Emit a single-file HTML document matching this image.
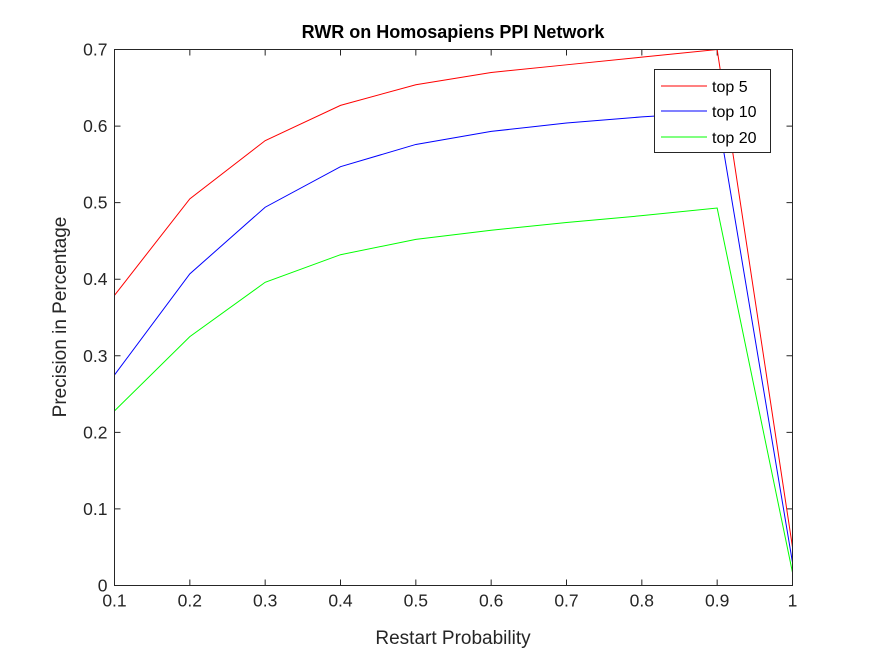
<!DOCTYPE html>
<html><head><meta charset="utf-8"><style>
body{margin:0;background:#fff;}
svg{display:block;font-family:"Liberation Sans",Arial,sans-serif;}
</style></head><body>
<svg id="chart" width="875" height="656" xmlns="http://www.w3.org/2000/svg">
<rect width="875" height="656" fill="#fff"/>
<text x="453" y="38" text-anchor="middle" font-size="18" font-weight="bold" fill="#000">RWR on Homosapiens PPI Network</text>
<text x="453" y="644" text-anchor="middle" font-size="19" fill="#262626">Restart Probability</text>
<text transform="translate(66,317) rotate(-90)" text-anchor="middle" font-size="19" fill="#262626">Precision in Percentage</text>
<g id="ticks"></g>
<g id="series"></g>
<rect x="114.5" y="49.5" width="678" height="536" fill="none" stroke="#262626" stroke-width="1"/>
<g>
<rect x="654.5" y="69.5" width="116" height="83" fill="#fff" stroke="#262626"/>
<line x1="661" y1="86" x2="707" y2="86" stroke="#ff0000"/>
<text x="712" y="92" font-size="16" fill="#000">top 5</text>
<line x1="661" y1="111" x2="707" y2="111" stroke="#0000ff"/>
<text x="712" y="117" font-size="16" fill="#000">top 10</text>
<line x1="661" y1="137" x2="707" y2="137" stroke="#00ff00"/>
<text x="712" y="143" font-size="16" fill="#000">top 20</text>
</g>
</svg>
<script>
const xValues = [0.1,0.2,0.3,0.4,0.5,0.6,0.7,0.8,0.9,1.0];
const top5 = [0.379,0.505,0.581,0.627,0.654,0.670,0.680,0.690,0.700,0.050];
const top10 = [0.275,0.407,0.494,0.547,0.576,0.593,0.604,0.612,0.618,0.030];
const top20 = [0.228,0.325,0.396,0.432,0.452,0.464,0.474,0.483,0.493,0.017];
const xTicks = [0.1,0.2,0.3,0.4,0.5,0.6,0.7,0.8,0.9,1];
const xTickLabels = ["0.1","0.2","0.3","0.4","0.5","0.6","0.7","0.8","0.9","1"];
const yTicks = [0,0.1,0.2,0.3,0.4,0.5,0.6,0.7];
const yTickLabels = ["0","0.1","0.2","0.3","0.4","0.5","0.6","0.7"];

const NS="http://www.w3.org/2000/svg";
const L=114.5,R=792.5,T=49.5,B=585.5;
function xs(v){return L+(v-0.1)/(1-0.1)*(R-L);}
function ys(v){return B-(v/0.7)*(B-T);}
const tg=document.getElementById('ticks');
xTicks.forEach((v,i)=>{
  const x=xs(v);
  const t1=document.createElementNS(NS,'path');
  t1.setAttribute('d',`M${x},${B}V${B-6}M${x},${T}V${T+6}`);
  t1.setAttribute('stroke','#262626');
  
  
  tg.appendChild(t1);
  const tx=document.createElementNS(NS,'text');
  tx.setAttribute('x',x);tx.setAttribute('y',B+21);
  tx.setAttribute('text-anchor','middle');tx.setAttribute('font-size','17.5');tx.setAttribute('fill','#262626');
  tx.textContent=xTickLabels[i];
  
  
  tg.appendChild(tx);
});
yTicks.forEach((v,i)=>{
  const y=ys(v);
  const t1=document.createElementNS(NS,'path');
  t1.setAttribute('d',`M${L},${y}H${L+6}M${R},${y}H${R-6}`);
  t1.setAttribute('stroke','#262626');
  
  
  tg.appendChild(t1);
  const tx=document.createElementNS(NS,'text');
  tx.setAttribute('x',L-7);tx.setAttribute('y',y+6);
  tx.setAttribute('text-anchor','end');tx.setAttribute('font-size','17.5');tx.setAttribute('fill','#262626');
  tx.textContent=yTickLabels[i];
  
  
  tg.appendChild(tx);
});
const sg=document.getElementById('series');
[[top5,'#ff0000','line-top5'],[top10,'#0000ff','line-top10'],[top20,'#00ff00','line-top20']].forEach(s=>{
  const p=document.createElementNS(NS,'polyline');
  p.setAttribute('points',s[0].map((v,i)=>xs(xValues[i])+','+ys(v)).join(' '));
  p.setAttribute('fill','none');p.setAttribute('stroke',s[1]);p.setAttribute('stroke-width','1');
  
  
  sg.appendChild(p);
});
</script>
</body></html>
